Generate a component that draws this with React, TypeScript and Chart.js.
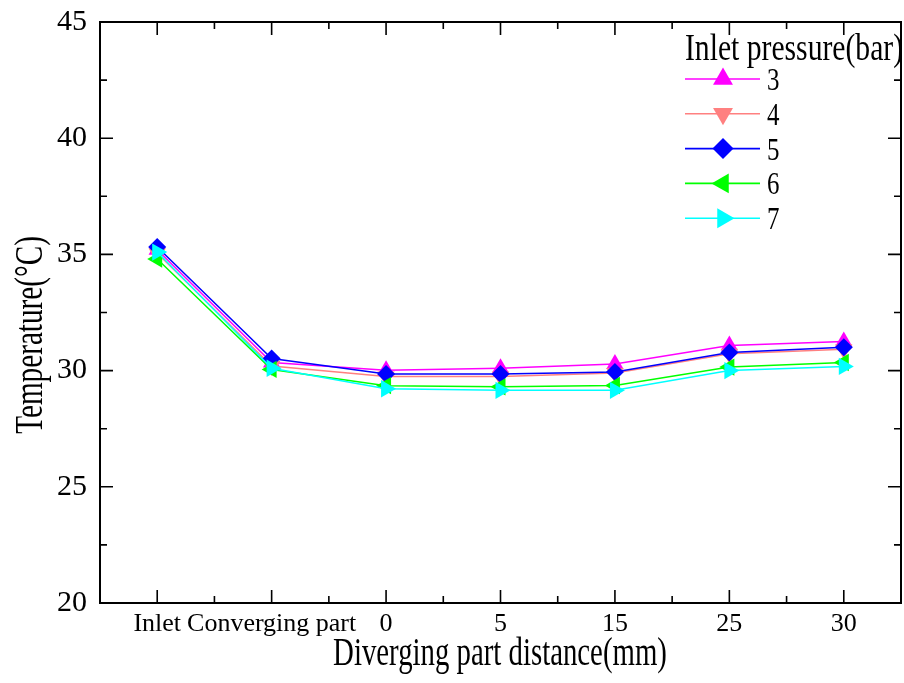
import React, { useEffect, useRef } from 'react';
import { Chart, registerables } from 'chart.js';
import { drawPoint } from 'chart.js/helpers';

Chart.register(...registerables);

const FONT = '"Liberation Serif", "Times New Roman", serif';

const categories = ['Inlet', 'Converging part', '0', '5', '15', '25', '30'];
const seriesNames = ['3', '4', '5', '6', '7'];
const p3 = [35.2, 30.35, 30.02, 30.1, 30.28, 31.08, 31.25];
const p4 = [35.05, 30.2, 29.75, 29.75, 29.9, 30.72, 30.92];
const p5 = [35.32, 30.52, 29.85, 29.85, 29.94, 30.78, 31.0];
const p6 = [34.8, 30.05, 29.35, 29.3, 29.36, 30.15, 30.35];
const p7 = [35.1, 30.1, 29.22, 29.15, 29.15, 30.0, 30.18];
const seriesValues = [p3, p4, p5, p6, p7];
const yMin = 20;
const yMax = 45;
const yStep = 5;
const legendTitle = 'Inlet pressure(bar)';
const xTitle = 'Diverging part distance(mm)';
const yTitle = 'Temperature(\u00B0C)';

const colors = ['#FF00FF', '#FF8080', '#0000FF', '#00FF00', '#00FFFF'];
const styles = ['triangle', 'triangle', 'rectRot', 'triangle', 'triangle'];
const rotations = [0, 180, 0, 270, 90];
const plotRadius = [10, 10, 9, 10, 10];
const legendRadius = [11.5, 11.5, 10.5, 11.5, 11.5];

function condensed(ctx: CanvasRenderingContext2D, text: string, x: number, y: number, size: number, sx: number, align: CanvasTextAlign, rotate = false) {
  ctx.save();
  ctx.translate(x, y);
  if (rotate) ctx.rotate(-Math.PI / 2);
  ctx.scale(sx, 1);
  ctx.font = `${size}px ${FONT}`;
  ctx.fillStyle = '#000';
  ctx.textAlign = align;
  ctx.textBaseline = 'alphabetic';
  ctx.fillText(text, 0, 0);
  ctx.restore();
}

const zeroPad = () => ({ left: 0, top: 0, right: 0, bottom: 0 });

const framePlugin = {
  id: 'frame',
  beforeDatasetsDraw(chart: any) {
    const { ctx, chartArea: a, scales } = chart;
    const x = scales.x;
    const y = scales.y;
    ctx.save();
    ctx.strokeStyle = '#000';
    ctx.lineWidth = 2;
    ctx.strokeRect(a.left, a.top, a.right - a.left, a.bottom - a.top);
    ctx.lineWidth = 1.6;
    ctx.beginPath();
    for (let v = yMin; v <= yMax + 1e-6; v += yStep / 2) {
      const py = y.getPixelForValue(v);
      const major = Math.abs(v / yStep - Math.round(v / yStep)) < 1e-6;
      const len = major ? 13 : 7;
      ctx.moveTo(a.left, py); ctx.lineTo(a.left + len, py);
      ctx.moveTo(a.right, py); ctx.lineTo(a.right - len, py);
    }
    const n = categories.length;
    for (let i = 0; i < n; i++) {
      const px = x.getPixelForTick(i);
      ctx.moveTo(px, a.bottom); ctx.lineTo(px, a.bottom - 13);
      ctx.moveTo(px, a.top); ctx.lineTo(px, a.top + 13);
      if (i < n - 1) {
        const mx = (px + x.getPixelForTick(i + 1)) / 2;
        ctx.moveTo(mx, a.bottom); ctx.lineTo(mx, a.bottom - 7);
        ctx.moveTo(mx, a.top); ctx.lineTo(mx, a.top + 7);
      }
    }
    ctx.stroke();
    ctx.restore();
  },
  afterDraw(chart: any) {
    const { ctx } = chart;
    condensed(ctx, xTitle, 500, 665, 40, 0.72, 'center');
    condensed(ctx, yTitle, 42, 335, 40, 0.73, 'center', true);
    condensed(ctx, legendTitle, 685, 60, 38, 0.78, 'left');
    seriesNames.forEach((name, i) => {
      const cy = 79 + i * 34.8;
      ctx.save();
      ctx.strokeStyle = colors[i];
      ctx.fillStyle = colors[i];
      ctx.lineWidth = 1.6;
      ctx.beginPath();
      ctx.moveTo(685, cy);
      ctx.lineTo(760, cy);
      ctx.stroke();
      drawPoint(ctx, { pointStyle: styles[i], rotation: rotations[i], radius: legendRadius[i], borderWidth: 0 } as any, 723, cy);
      ctx.restore();
      condensed(ctx, name, 767, cy + 11, 32, 0.78, 'left');
    });
  },
};

export default function App() {
  const ref = useRef<HTMLCanvasElement | null>(null);
  useEffect(() => {
    if (!ref.current) return;
    Chart.defaults.font.family = FONT;
    const chart = new Chart(ref.current, {
      type: 'line',
      data: {
        labels: categories,
        datasets: seriesValues.map((vals, i) => ({
          label: seriesNames[i],
          data: vals,
          borderColor: colors[i],
          backgroundColor: colors[i],
          pointBackgroundColor: colors[i],
          pointBorderColor: colors[i],
          pointBorderWidth: 0,
          borderWidth: 1.5,
          pointStyle: styles[i] as any,
          pointRotation: rotations[i],
          pointRadius: plotRadius[i],
          tension: 0,
          fill: false,
          order: -i,
        })),
      },
      options: {
        responsive: true,
        maintainAspectRatio: false,
        animation: false,
        events: [],
        layout: { padding: { top: 22, right: 3, left: 0, bottom: 0 } },
        plugins: { legend: { display: false }, tooltip: { enabled: false } },
        scales: {
          x: {
            type: 'category',
            offset: true,
            grid: { display: false, drawTicks: false },
            border: { display: false },
            ticks: { color: '#000', font: { family: FONT, size: 26 }, padding: 6, maxRotation: 0, autoSkip: false },
            afterFit: (s: any) => { s.height = 80; s.paddingLeft = 0; s.paddingRight = 0; s.getPadding = zeroPad; },
          },
          y: {
            min: yMin,
            max: yMax,
            grid: { display: false, drawTicks: false },
            border: { display: false },
            ticks: { stepSize: yStep, color: '#000', font: { family: FONT, size: 30 }, padding: 13 },
            afterFit: (s: any) => { s.width = 100; s.paddingTop = 0; s.paddingBottom = 0; s.getPadding = zeroPad; },
          },
        },
      },
      plugins: [framePlugin],
    });
    return () => chart.destroy();
  }, []);
  return (
    <div style={{ position: 'fixed', left: 0, top: 0, width: 904, height: 683, overflow: 'hidden', background: '#fff' }}>
      <div style={{ position: 'absolute', left: 0, top: 0, width: 911, height: 683 }}>
        <canvas ref={ref} />
      </div>
    </div>
  );
}
